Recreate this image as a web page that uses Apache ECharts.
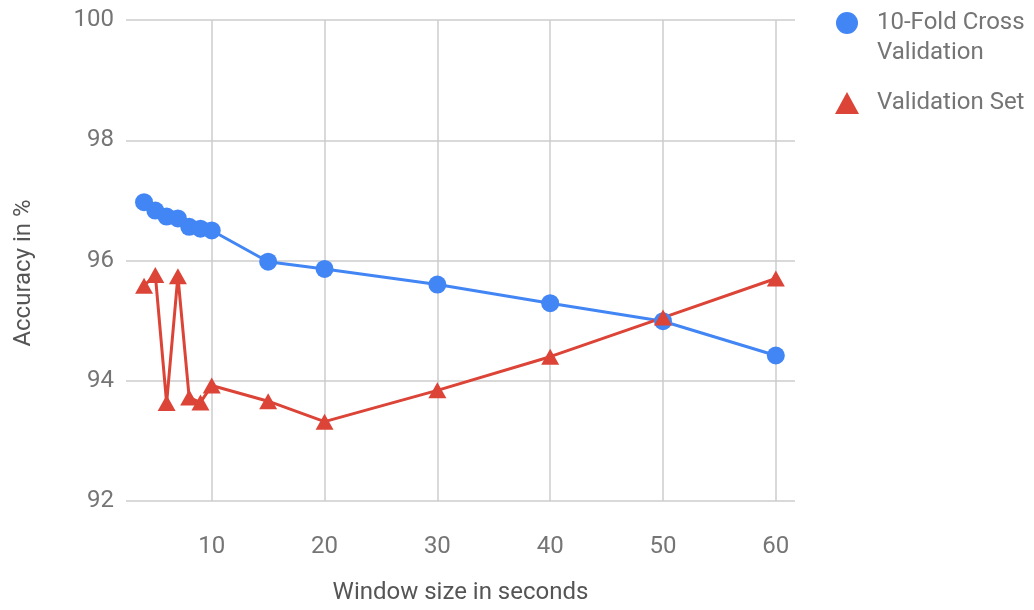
<!DOCTYPE html>
<html>
<head>
<meta charset="utf-8">
<script src="https://cdn.jsdelivr.net/npm/echarts@6/dist/echarts.min.js"></script>
<style>
html,body{margin:0;padding:0;background:#fff;}
#chart{width:1034px;height:610px;}
</style>
</head>
<body>
<div id="chart"></div>
<script>
const windowSizes = [4, 5, 6, 7, 8, 9, 10, 15, 20, 30, 40, 50, 60];
const crossValidation = [96.97, 96.83, 96.73, 96.70, 96.56, 96.53, 96.50, 95.98, 95.86, 95.60, 95.29, 94.99, 94.42];
const validationSet = [95.58, 95.76, 93.63, 95.74, 93.72, 93.64, 93.92, 93.66, 93.32, 93.84, 94.40, 95.05, 95.70];
const xTicks = [10, 20, 30, 40, 50, 60];
const seriesNames = ['10-Fold Cross\nValidation', 'Validation Set'];

const font = 'Roboto';
const gray = '#757575';

const chart = echarts.init(document.getElementById('chart'));
chart.setOption({
  animation: false,
  textStyle: { fontFamily: font },
  grid: { left: 126, right: 239, top: 20, bottom: 107 },
  legend: {
    orient: 'vertical',
    left: 830,
    top: -27,
    itemWidth: 24,
    itemHeight: 22,
    itemGap: 20,
    formatter: name => (name === seriesNames[0] ? '\n' + name : name),
    textStyle: { fontFamily: font, fontSize: 24, color: gray, lineHeight: 30, padding: [0, 0, 0, 13] },
    data: [
      { name: seriesNames[0], icon: 'circle' },
      { name: seriesNames[1], icon: 'triangle' }
    ]
  },
  xAxis: {
    type: 'value',
    min: 2.4,
    max: 61.7,
    name: 'Window size in seconds',
    nameLocation: 'middle',
    nameGap: 80,
    nameTextStyle: { fontFamily: font, fontSize: 24, color: '#555' },
    axisLine: { show: false },
    axisTick: { show: false, customValues: xTicks },
    axisLabel: { customValues: xTicks, fontFamily: font, fontSize: 24, color: gray, margin: 34 },
    splitLine: { show: true, lineStyle: { color: '#cccccc', width: 1.5 } }
  },
  yAxis: {
    type: 'value',
    min: 92,
    max: 100,
    interval: 2,
    name: 'Accuracy in %',
    nameLocation: 'middle',
    nameGap: 90,
    nameTextStyle: { fontFamily: font, fontSize: 24, color: '#555', padding: [0, 25, 0, 0] },
    axisLine: { show: false },
    axisTick: { show: false },
    axisLabel: { fontFamily: font, fontSize: 24, color: gray, margin: 12 },
    splitLine: { show: true, lineStyle: { color: '#cccccc', width: 1.5 } }
  },
  series: [
    {
      name: seriesNames[0],
      type: 'line',
      data: windowSizes.map((x, i) => [x, crossValidation[i]]),
      symbol: 'circle',
      symbolSize: 18,
      lineStyle: { color: '#4285F4', width: 3 },
      itemStyle: { color: '#4285F4' }
    },
    {
      name: seriesNames[1],
      type: 'line',
      data: windowSizes.map((x, i) => [x, validationSet[i]]),
      symbol: 'triangle',
      symbolSize: [18, 16],
      lineStyle: { color: '#DB4437', width: 3 },
      itemStyle: { color: '#DB4437' }
    }
  ]
});
</script>
</body>
</html>
